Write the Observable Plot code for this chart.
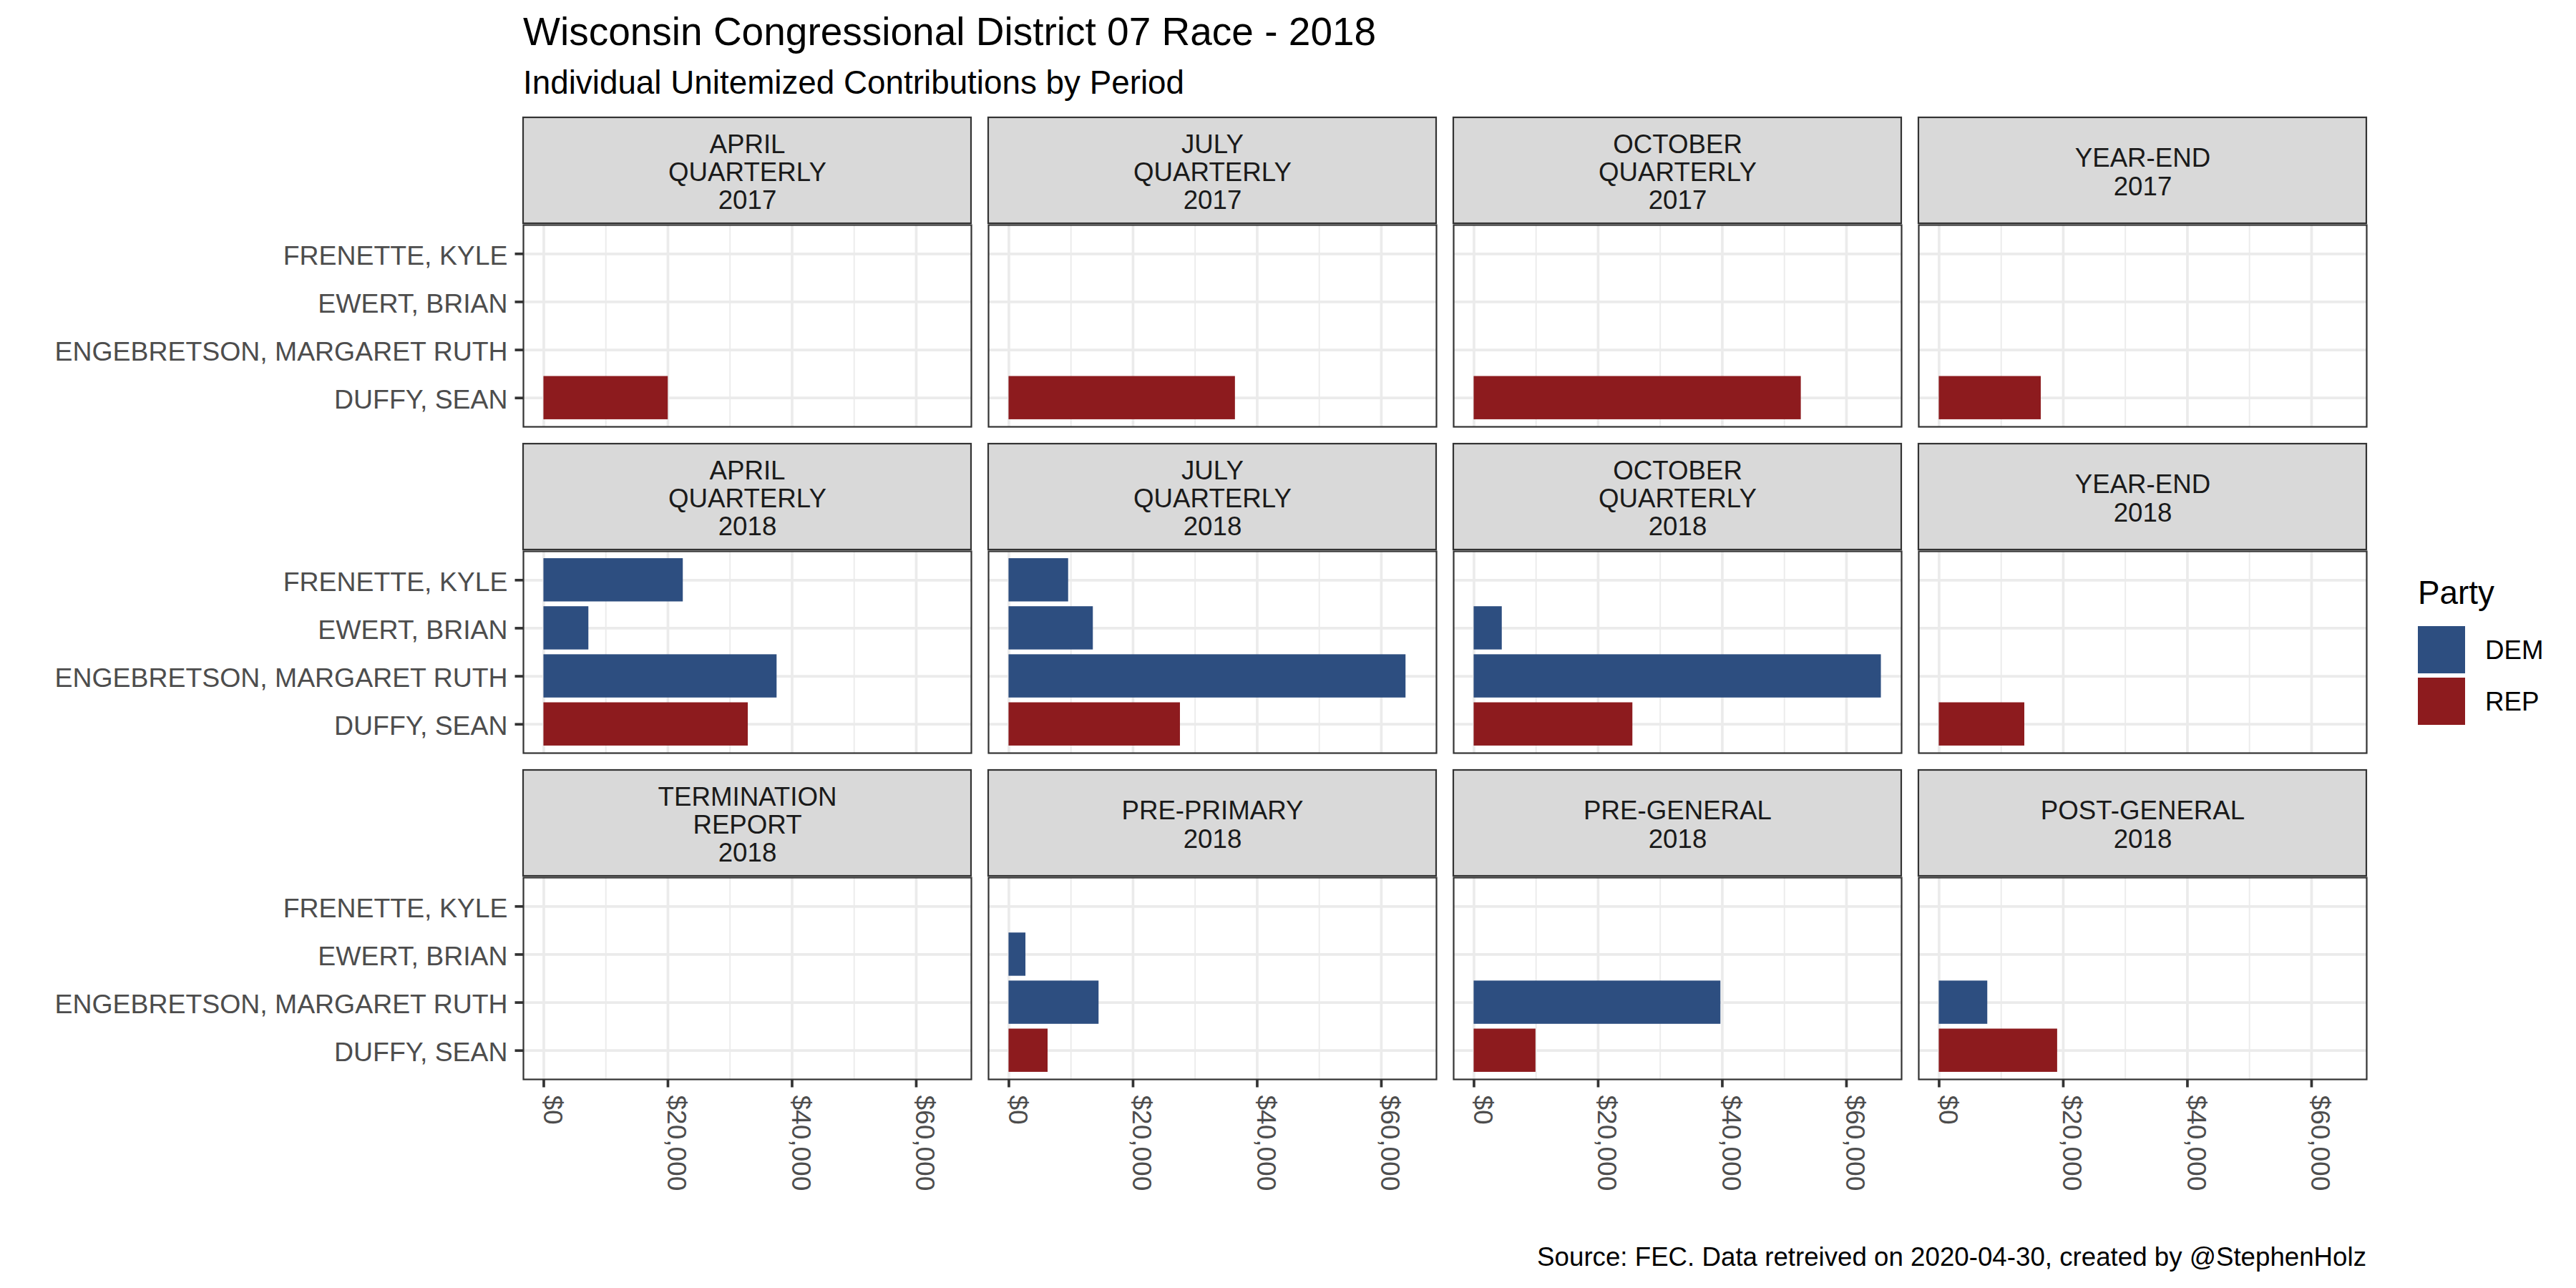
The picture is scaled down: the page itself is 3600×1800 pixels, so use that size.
<!DOCTYPE html>
<html>
<head>
<meta charset="utf-8">
<script src="https://cdn.jsdelivr.net/npm/d3@7"></script>
<script src="https://cdn.jsdelivr.net/npm/@observablehq/plot@0.6"></script>
<style>
html, body { margin: 0; padding: 0; background: #ffffff; }
#wrap { position: relative; width: 3600px; height: 1800px; font-family: "Liberation Sans", Arial, sans-serif; }
#wrap > svg { position: absolute; left: 0; top: 0; }
.t { position: absolute; white-space: nowrap; line-height: 1; color: #000; }
.key { position: absolute; width: 66px; height: 66px; }
</style>
</head>
<body>
<div id="wrap"></div>
<script>
// ---------- data ----------
const titleText = "Wisconsin Congressional District 07 Race - 2018";
const subtitleText = "Individual Unitemized Contributions by Period";
const captionText = "Source: FEC. Data retreived on 2020-04-30, created by @StephenHolz";
const legendTitle = "Party";

const periods = [
  "APRIL\nQUARTERLY\n2017", "JULY\nQUARTERLY\n2017", "OCTOBER\nQUARTERLY\n2017", "YEAR-END\n2017",
  "APRIL\nQUARTERLY\n2018", "JULY\nQUARTERLY\n2018", "OCTOBER\nQUARTERLY\n2018", "YEAR-END\n2018",
  "TERMINATION\nREPORT\n2018", "PRE-PRIMARY\n2018", "PRE-GENERAL\n2018", "POST-GENERAL\n2018"
];
// candidates listed top to bottom
const candidates = ["FRENETTE, KYLE", "EWERT, BRIAN", "ENGEBRETSON, MARGARET RUTH", "DUFFY, SEAN"];
const candidateParty = ["DEM", "DEM", "DEM", "REP"];
// amounts per period (same order as periods)
const frenette    = [null, null, null, null, 22450,  9600,  null, null, null, null,  null,  null];
const ewert       = [null, null, null, null,  7240, 13580,  4530, null, null, 2720,  null,  null];
const engebretson = [null, null, null, null, 37560, 63950, 65600, null, null, 14500, 39750, 7815];
const duffy       = [20030, 36470, 52700, 16430, 32920, 27610, 25570, 13780, null, 6290, 9960, 19070];
const candidateValues = [frenette, ewert, engebretson, duffy];

const partyNames = ["DEM", "REP"];
const partyColors = ["#2D4E80", "#8D1B1E"];
const majorTicks = [0, 20000, 40000, 60000];
const minorTicks = [10000, 30000, 50000];

// ---------- layout ----------
const W = 3600, H = 1800;
const mL = 731, mR = 293, mT = 314, mB = 292;
const nCols = 4, nRows = 3;
const gapX = 24, gapY = 24, stripH = 150;
const panelW = (W - mL - mR - (nCols - 1) * gapX) / nCols;
const panelH = (H - mT - mB - (nRows - 1) * (stripH + gapY)) / nRows;
const FONT = "'Liberation Sans', Arial, sans-serif";

// ---------- derived tables ----------
const strips = periods.map((label, i) => ({label, col: i % nCols, row: Math.floor(i / nCols)}));
const bars = [];
candidates.forEach((name, c) => {
  candidateValues[c].forEach((v, i) => {
    if (v != null) bars.push({name, party: candidateParty[c], value: v, col: i % nCols, row: Math.floor(i / nCols)});
  });
});
const yTicks = [];
for (let r = 0; r < nRows; r++) candidates.forEach(name => yTicks.push({name, col: 0, row: r}));
const xTicks = [];
for (let c = 0; c < nCols; c++) majorTicks.forEach(value => xTicks.push({value, col: c, row: nRows - 1}));

const xMax = d3.max(bars, d => d.value);
const fmt = d3.format("$,");

const chart = Plot.plot({
  width: W, height: H,
  marginLeft: mL, marginRight: mR, marginTop: mT, marginBottom: mB,
  style: {fontFamily: FONT, fontSize: "36.7px", background: "transparent", maxWidth: "none", overflow: "visible"},
  fx: {domain: d3.range(nCols), axis: null, paddingInner: gapX / (panelW + gapX), paddingOuter: 0, round: false},
  fy: {domain: d3.range(nRows), axis: null, paddingInner: (stripH + gapY) / (panelH + stripH + gapY), paddingOuter: 0, round: false},
  x: {domain: [-0.05 * xMax, 1.05 * xMax], axis: null},
  y: {domain: candidates, axis: null, paddingInner: 0.1, paddingOuter: 0.15, round: false},
  color: {domain: partyNames, range: partyColors},
  marks: [
    Plot.ruleX(minorTicks, {stroke: "#EBEBEB", strokeWidth: 1.9}),
    Plot.ruleX(majorTicks, {stroke: "#EBEBEB", strokeWidth: 3.7}),
    Plot.ruleY(candidates, {stroke: "#EBEBEB", strokeWidth: 3.7}),
    Plot.barX(bars, {fx: "col", fy: "row", x1: 0, x2: "value", y: "name", fill: "party"}),
    Plot.frame({stroke: "#333333", strokeWidth: 2.2}),
    Plot.rect(strips, {fx: "col", fy: "row", fill: "#D9D9D9", stroke: "#333333", strokeWidth: 2.2,
      insetTop: -stripH, insetBottom: panelH + 2}),
    Plot.text(strips, {fx: "col", fy: "row", text: "label", frameAnchor: "top", dy: -stripH / 2 + 1,
      lineAnchor: "middle", lineHeight: 1.073, fontSize: 36.7, fill: "#1A1A1A"}),
    Plot.ruleY(yTicks, {fx: "col", fy: "row", y: "name", stroke: "#333333", strokeWidth: 3.7,
      insetLeft: -11.5, insetRight: panelW}),
    Plot.text(yTicks, {fx: "col", fy: "row", y: "name", text: "name", frameAnchor: "left",
      textAnchor: "end", dx: -22, dy: 3, fill: "#4D4D4D", fontSize: 37.4}),
    Plot.ruleX(xTicks, {fx: "col", fy: "row", x: "value", stroke: "#333333", strokeWidth: 3.7,
      insetTop: panelH, insetBottom: -11.5}),
    Plot.text(xTicks, {fx: "col", fy: "row", x: "value", text: d => fmt(d.value), frameAnchor: "bottom",
      rotate: 90, textAnchor: "start", dy: 22, fill: "#4D4D4D", fontSize: 37.0})
  ]
});

const wrap = document.getElementById("wrap");
wrap.appendChild(chart);

function addText(txt, size, left, baseline, extra = {}) {
  const d = document.createElement("div");
  d.className = "t";
  d.textContent = txt;
  d.style.fontSize = size + "px";
  d.style.top = (baseline - 0.8465 * size) + "px";
  if (extra.right != null) d.style.right = extra.right + "px"; else d.style.left = left + "px";
  if (extra.color) d.style.color = extra.color;
  wrap.appendChild(d);
  return d;
}
addText(titleText, 55, 731, 64);
addText(subtitleText, 45.8, 731, 132);
addText(captionText, 36.7, null, 1770, {right: W - 3307});

// legend
addText(legendTitle, 45.8, 3379, 845);
partyNames.forEach((p, i) => {
  const k = document.createElement("div");
  k.className = "key";
  k.style.left = "3379px";
  k.style.top = (875 + i * 72) + "px";
  k.style.background = partyColors[i];
  wrap.appendChild(k);
  addText(p, 36.7, 3473, 922 + i * 72);
});
</script>
</body>
</html>
